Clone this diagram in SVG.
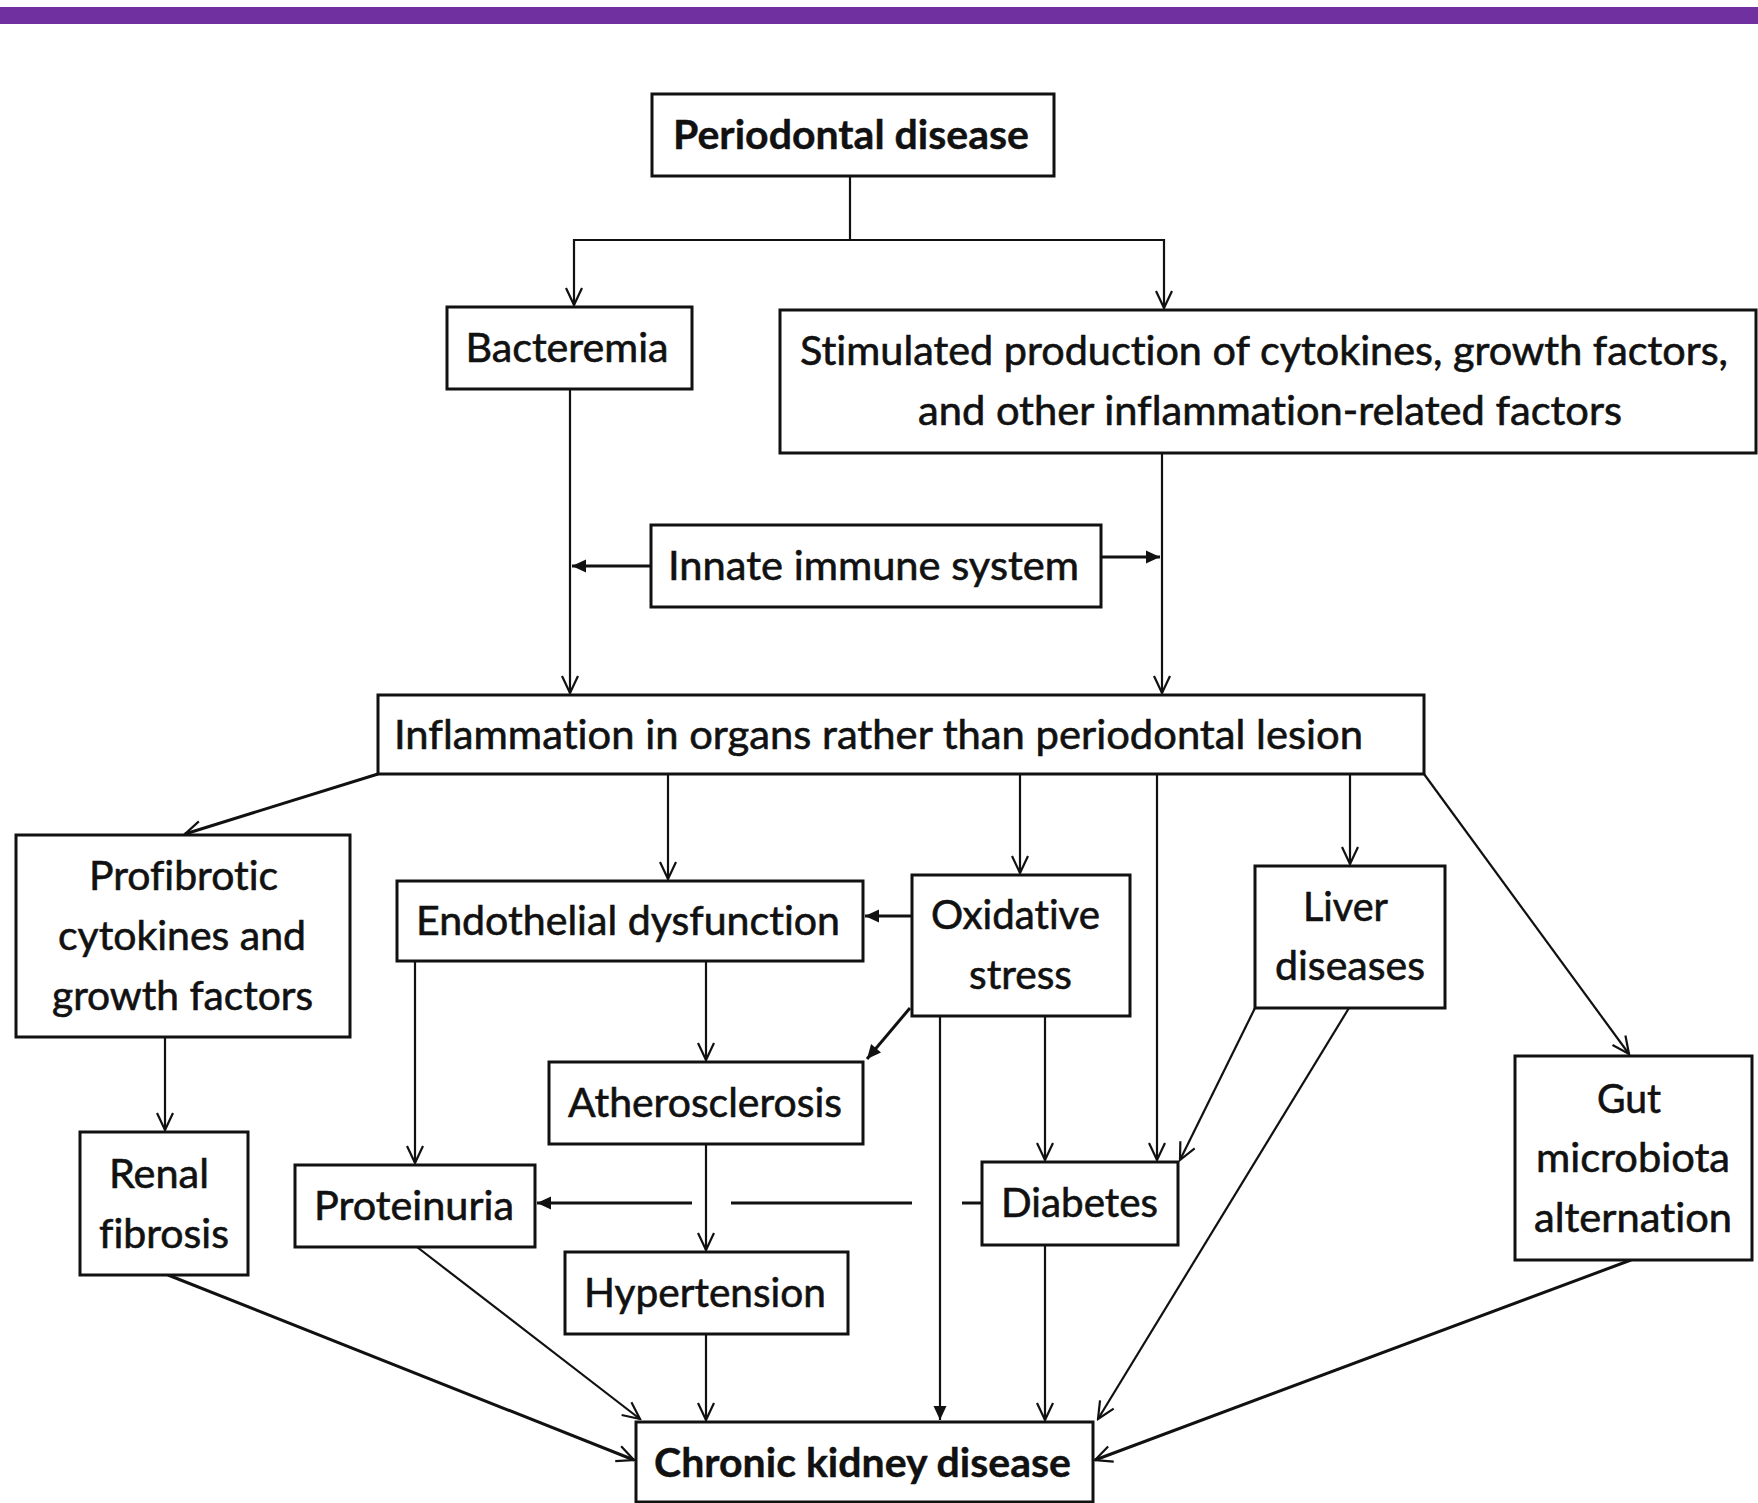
<svg xmlns="http://www.w3.org/2000/svg" width="1758" height="1503" viewBox="0 0 1758 1503">
<defs>
<style>
.box{fill:#fff;stroke:#111;stroke-width:3}
.t{font-family:Lato,"Open Sans",sans-serif;font-size:40px;fill:#111;stroke:#111;stroke-width:0.6;text-anchor:middle;font-variant-ligatures:none;font-feature-settings:"liga" 0}
.b{font-weight:bold;stroke-width:0.4}
.c{fill:none;stroke:#111;stroke-width:2.2}
.k{stroke-width:3}
.v{marker-end:url(#open)}
.f{marker-end:url(#fill)}
</style>
<marker id="open" viewBox="-19 -10 21 20" refX="0" refY="0" markerWidth="21" markerHeight="20" markerUnits="userSpaceOnUse" orient="auto">
<path d="M-17,-8 L0,0 L-17,8" fill="none" stroke="#111" stroke-width="2.2"/>
</marker>
<marker id="fill" viewBox="-15 -8 16 16" refX="0" refY="0" markerWidth="16" markerHeight="16" markerUnits="userSpaceOnUse" orient="auto">
<path d="M-14,-6.5 L0,0 L-14,6.5 Z" fill="#111"/>
</marker>
</defs>
<rect x="0" y="0" width="1758" height="1503" fill="#fff"/>
<rect x="0" y="7" width="1758" height="17" fill="#7030a0"/>

<g id="connectors">
<path class="c" d="M850 176 V240"/>
<path class="c v" d="M850 240 H574 V305"/>
<path class="c v" d="M850 240 H1164 V308"/>
<path class="c v" d="M570 389 V693"/>
<path class="c v" d="M1162 453 V693"/>
<path class="c f k" d="M651 566 H572"/>
<path class="c f k" d="M1101 557 H1160"/>
<path class="c v k" d="M378 774 L185 834"/>
<path class="c v" d="M668 774 V879"/>
<path class="c v" d="M1020 774 V873"/>
<path class="c v" d="M1157 774 V1160"/>
<path class="c v" d="M1350 774 V864"/>
<path class="c v" d="M1424 774 L1629 1054"/>
<path class="c f k" d="M912 916 H865"/>
<path class="c f k" d="M910 1008 L867 1059"/>
<path class="c v" d="M706 961 V1060"/>
<path class="c v" d="M415 961 V1163"/>
<path class="c v" d="M706 1144 V1250"/>
<path class="c k" d="M982 1203 H962"/>
<path class="c k" d="M912 1203 H731"/>
<path class="c f k" d="M692 1203 H537"/>
<path class="c f" d="M940 1016 V1420"/>
<path class="c v" d="M1045 1016 V1160"/>
<path class="c v" d="M1255 1008 L1180 1160"/>
<path class="c v" d="M1349 1008 L1098 1419"/>
<path class="c v" d="M1045 1245 V1420"/>
<path class="c v" d="M706 1334 V1420"/>
<path class="c v" d="M417 1247 L640 1419"/>
<path class="c v k" d="M168 1275 L634 1460"/>
<path class="c v k" d="M1631 1260 L1095 1460"/>
<path class="c v" d="M165 1037 V1130"/>
</g>

<g id="periodontal">
<rect class="box" x="652" y="94" width="402" height="82"/>
<text class="t b" x="851" y="149" textLength="356" lengthAdjust="spacingAndGlyphs">Periodontal disease</text>
</g>
<g id="bacteremia">
<rect class="box" x="447" y="307" width="245" height="82"/>
<text class="t" x="567" y="362" textLength="203" lengthAdjust="spacingAndGlyphs">Bacteremia</text>
</g>
<g id="stimulated">
<rect class="box" x="780" y="310" width="976" height="143"/>
<text class="t" x="1264" y="365" textLength="928" lengthAdjust="spacingAndGlyphs">Stimulated production of cytokines, growth factors,</text>
<text class="t" x="1270" y="425" textLength="704" lengthAdjust="spacingAndGlyphs">and other inflammation-related factors</text>
</g>
<g id="innate">
<rect class="box" x="651" y="525" width="450" height="82"/>
<text class="t" x="873.5" y="580" textLength="411" lengthAdjust="spacingAndGlyphs">Innate immune system</text>
</g>
<g id="inflammation">
<rect class="box" x="378" y="695" width="1046" height="79"/>
<text class="t" x="878.5" y="749" textLength="969" lengthAdjust="spacingAndGlyphs">Inflammation in organs rather than periodontal lesion</text>
</g>
<g id="profibrotic">
<rect class="box" x="16" y="835" width="334" height="202"/>
<text class="t" x="183.5" y="890" textLength="189" lengthAdjust="spacingAndGlyphs">Profibrotic</text>
<text class="t" x="182" y="950" textLength="248" lengthAdjust="spacingAndGlyphs">cytokines and</text>
<text class="t" x="182.5" y="1010" textLength="261" lengthAdjust="spacingAndGlyphs">growth factors</text>
</g>
<g id="endothelial">
<rect class="box" x="397" y="881" width="466" height="80"/>
<text class="t" x="628" y="935" textLength="424" lengthAdjust="spacingAndGlyphs">Endothelial dysfunction</text>
</g>
<g id="oxidative">
<rect class="box" x="912" y="875" width="218" height="141"/>
<text class="t" x="1015.5" y="929" textLength="169" lengthAdjust="spacingAndGlyphs">Oxidative</text>
<text class="t" x="1020.5" y="989" textLength="103" lengthAdjust="spacingAndGlyphs">stress</text>
</g>
<g id="liver">
<rect class="box" x="1255" y="866" width="190" height="142"/>
<text class="t" x="1345.5" y="921" textLength="85" lengthAdjust="spacingAndGlyphs">Liver</text>
<text class="t" x="1350" y="980" textLength="150" lengthAdjust="spacingAndGlyphs">diseases</text>
</g>
<g id="gut">
<rect class="box" x="1515" y="1056" width="237" height="204"/>
<text class="t" x="1629" y="1113" textLength="64" lengthAdjust="spacingAndGlyphs">Gut</text>
<text class="t" x="1633" y="1172" textLength="194" lengthAdjust="spacingAndGlyphs">microbiota</text>
<text class="t" x="1633" y="1232" textLength="198" lengthAdjust="spacingAndGlyphs">alternation</text>
</g>
<g id="atherosclerosis">
<rect class="box" x="549" y="1062" width="314" height="82"/>
<text class="t" x="705" y="1117" textLength="274" lengthAdjust="spacingAndGlyphs">Atherosclerosis</text>
</g>
<g id="renal">
<rect class="box" x="80" y="1132" width="168" height="143"/>
<text class="t" x="159" y="1188" textLength="100" lengthAdjust="spacingAndGlyphs">Renal</text>
<text class="t" x="164" y="1248" textLength="130" lengthAdjust="spacingAndGlyphs">fibrosis</text>
</g>
<g id="proteinuria">
<rect class="box" x="295" y="1165" width="240" height="82"/>
<text class="t" x="414" y="1220" textLength="200" lengthAdjust="spacingAndGlyphs">Proteinuria</text>
</g>
<g id="diabetes">
<rect class="box" x="982" y="1162" width="196" height="83"/>
<text class="t" x="1079.5" y="1217" textLength="157" lengthAdjust="spacingAndGlyphs">Diabetes</text>
</g>
<g id="hypertension">
<rect class="box" x="565" y="1252" width="283" height="82"/>
<text class="t" x="705" y="1307" textLength="242" lengthAdjust="spacingAndGlyphs">Hypertension</text>
</g>
<g id="ckd">
<rect class="box" x="636" y="1422" width="457" height="80"/>
<text class="t b" x="862.5" y="1477" textLength="417" lengthAdjust="spacingAndGlyphs">Chronic kidney disease</text>
</g>
</svg>
